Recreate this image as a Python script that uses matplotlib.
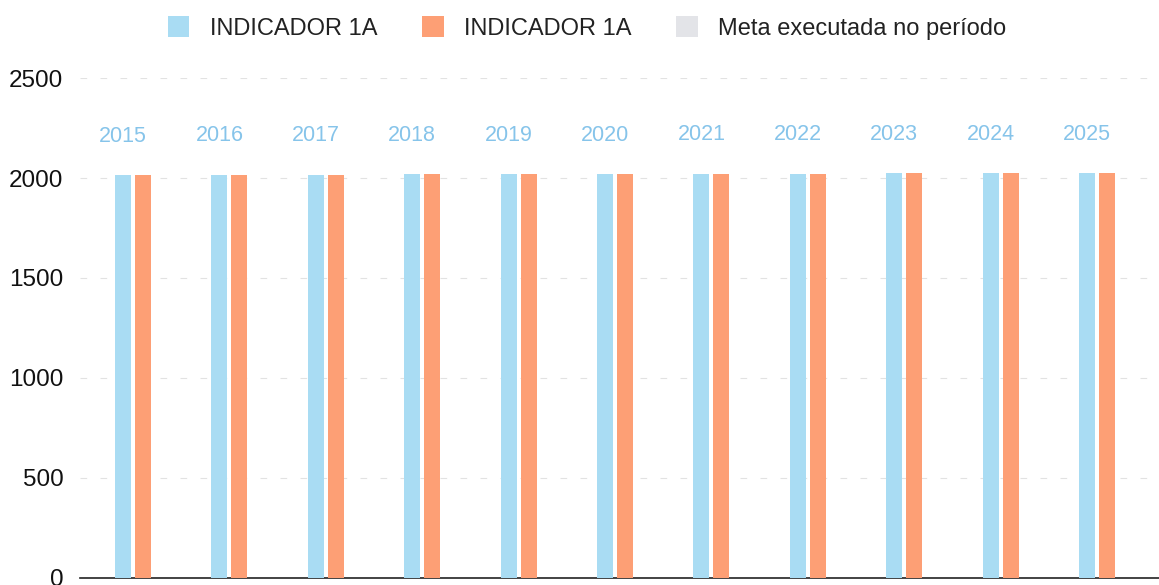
import numpy as np
import matplotlib.pyplot as plt

plt.rcParams['font.family'] = ['Liberation Sans', 'DejaVu Sans']

# Chart data
anos = ['2015', '2016', '2017', '2018', '2019', '2020',
        '2021', '2022', '2023', '2024', '2025']
indicador_a = [2015, 2016, 2017, 2018, 2019, 2020, 2021, 2022, 2023, 2024, 2025]
indicador_b = [2015, 2016, 2017, 2018, 2019, 2020, 2021, 2022, 2023, 2024, 2025]
meta_executada = [0, 0, 0, 0, 0, 0, 0, 0, 0, 0, 0]

AZUL = '#a9dcf3'
LARANJA = '#fd9f75'
CINZA = '#e3e4e8'

fig = plt.figure(figsize=(11.59, 5.85), dpi=100)
ax = fig.add_axes([80 / 1159, 7 / 585, 1079 / 1159, 500 / 585])

x = np.arange(len(anos))
w = 0.166
ax.bar(x, indicador_a, width=w, color=AZUL, label='INDICADOR 1A', zorder=3)
ax.bar(x + 0.207, indicador_b, width=w, color=LARANJA, label='INDICADOR 1A', zorder=3)
ax.bar(x + 0.414, meta_executada, width=w, color=CINZA, label='Meta executada no período', zorder=3)

# year labels above the blue bars
for xi, v, t in zip(x, indicador_a, anos):
    ax.annotate(t, (xi, v), xytext=(0, 28), textcoords='offset points',
                ha='center', va='center', fontsize=15.5, color='#86c4ea')

ax.set_xlim(-0.446, 10.747)
ax.set_ylim(0, 2500)
ax.set_yticks([0, 500, 1000, 1500, 2000, 2500])
ax.set_xticks([])
ax.tick_params(axis='y', length=0, labelsize=17.5, pad=12, labelcolor='#111111')
ax.grid(axis='y', color='#e2e2e2', linestyle=(0, (6, 12)), linewidth=0.8, zorder=0)
for s in ['top', 'right', 'left']:
    ax.spines[s].set_visible(False)
ax.spines['bottom'].set_color('#222222')
ax.spines['bottom'].set_linewidth(1.2)

fig.legend(loc='center', bbox_to_anchor=(587 / 1159, 1 - 28 / 585), ncol=3, frameon=False,
           fontsize=17, handlelength=0.93, handleheight=0.95, columnspacing=1.9,
           handletextpad=0.85, labelcolor='#222222', borderpad=0)

fig.savefig('out.png', dpi=100)
